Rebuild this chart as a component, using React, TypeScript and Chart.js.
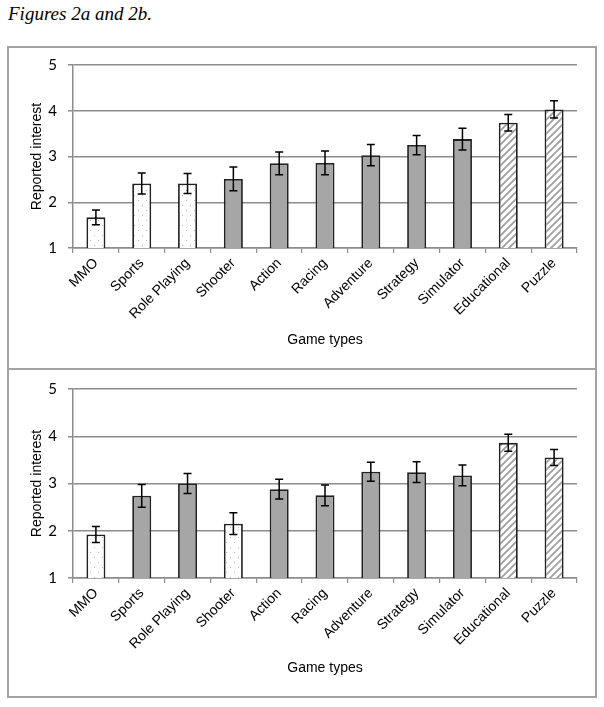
import React, { useEffect, useRef } from "react";
import { Chart, registerables } from "chart.js";

Chart.register(...registerables);

const categories = ["MMO", "Sports", "Role Playing", "Shooter", "Action", "Racing", "Adventure", "Strategy", "Simulator", "Educational", "Puzzle"];

const valuesA = [1.67, 2.41, 2.41, 2.51, 2.85, 2.86, 3.03, 3.25, 3.38, 3.74, 4.03];
const errorsA = [0.16, 0.23, 0.22, 0.26, 0.25, 0.26, 0.23, 0.21, 0.24, 0.18, 0.19];
const patternsA = ["dots", "dots", "dots", "solid", "solid", "solid", "solid", "solid", "solid", "hatch", "hatch"];

const valuesB = [1.92, 2.74, 3.0, 2.15, 2.88, 2.75, 3.25, 3.24, 3.17, 3.86, 3.55];
const errorsB = [0.17, 0.24, 0.21, 0.23, 0.21, 0.22, 0.2, 0.22, 0.22, 0.18, 0.17];
const patternsB = ["dots", "solid", "solid", "dots", "solid", "solid", "solid", "solid", "solid", "hatch", "hatch"];

const yTicks = [1, 2, 3, 4, 5];

function makePattern(kind: string): any {
  if (kind === "solid") return "#a6a6a6";
  const c = document.createElement("canvas");
  const ctx = c.getContext("2d")!;
  if (kind === "hatch") {
    c.width = 7;
    c.height = 7;
    ctx.fillStyle = "#ffffff";
    ctx.fillRect(0, 0, 7, 7);
    ctx.strokeStyle = "#a0a0a0";
    ctx.lineWidth = 1.8;
    ctx.beginPath();
    for (let k = -1; k <= 1; k++) {
      ctx.moveTo(k * 7 - 1, 8);
      ctx.lineTo(k * 7 + 8, -1);
    }
    ctx.stroke();
  } else {
    c.width = 8;
    c.height = 10;
    ctx.fillStyle = "#ffffff";
    ctx.fillRect(0, 0, 8, 10);
    ctx.fillStyle = "#b8b8b8";
    ctx.fillRect(1, 2, 1, 1);
    ctx.fillRect(5, 7, 1, 1);
  }
  return ctx.createPattern(c, "repeat");
}

const errorBarPlugin = {
  id: "errorBars",
  afterDatasetsDraw(chart: any) {
    const errs: number[] = chart.options.plugins.errorBars.errors;
    const meta = chart.getDatasetMeta(0);
    const yScale = chart.scales.y;
    const data = chart.data.datasets[0].data as number[];
    const ctx = chart.ctx;
    ctx.save();
    ctx.strokeStyle = "#000000";
    ctx.lineWidth = 1.5;
    meta.data.forEach((bar: any, i: number) => {
      const x = bar.x;
      const yt = yScale.getPixelForValue(data[i] + errs[i]);
      const yb = yScale.getPixelForValue(data[i] - errs[i]);
      ctx.beginPath();
      ctx.moveTo(x, yt);
      ctx.lineTo(x, yb);
      ctx.moveTo(x - 4, yt);
      ctx.lineTo(x + 4, yt);
      ctx.moveTo(x - 4, yb);
      ctx.lineTo(x + 4, yb);
      ctx.stroke();
    });
    ctx.restore();
  },
};

function BarPanel(props: { values: number[]; errors: number[]; patterns: string[]; w: number; h: number; top: number; xAxisH: number }) {
  const ref = useRef<HTMLCanvasElement>(null);
  useEffect(() => {
    const canvas = ref.current!;
    const gridColor = "#8c8c8c";
    const chart = new Chart(canvas, {
      type: "bar",
      data: {
        labels: categories,
        datasets: [
          {
            data: props.values,
            backgroundColor: props.patterns.map(makePattern),
            borderColor: "#222222",
            borderWidth: 1.8,
            borderSkipped: false,
            categoryPercentage: 1,
            barPercentage: 0.415,
          },
        ],
      },
      options: {
        responsive: false,
        animation: false,
        layout: { padding: { top: props.top, right: props.w - 568, left: 0, bottom: 0 } },
        plugins: {
          legend: { display: false },
          tooltip: { enabled: false },
          errorBars: { errors: props.errors },
        } as any,
        scales: {
          x: {
            offset: true,
            grid: { display: true, drawOnChartArea: false, drawTicks: true, tickLength: 5, color: gridColor, lineWidth: 1.2, offset: true },
            border: { display: true, color: gridColor, width: 1.5 },
            ticks: {
              minRotation: 45,
              maxRotation: 45,
              padding: 2,
              color: "#000000",
              font: { family: "Liberation Sans, Arial, sans-serif", size: 14 },
              autoSkip: false,
            },
            title: {
              display: true,
              text: "Game types",
              color: "#000000",
              font: { family: "Liberation Sans, Arial, sans-serif", size: 14 },
              padding: { top: 0, bottom: 19 },
            },
            afterFit: (s: any) => {
              s.height = props.xAxisH;
              s.paddingLeft = 0;
              s.paddingRight = 0;
            },
          },
          y: {
            min: 1,
            max: 5,
            afterBuildTicks: (s: any) => {
              s.ticks = yTicks.map((v) => ({ value: v }));
            },
            grid: { color: gridColor, lineWidth: 1.5, tickLength: 5, drawTicks: true },
            border: { display: true, color: gridColor, width: 1.5 },
            ticks: {
              padding: 11,
              color: "#000000",
              font: { family: "Lato, Open Sans, sans-serif", size: 15 },
            },
            title: {
              display: true,
              text: "Reported interest",
              color: "#000000",
              font: { family: "Liberation Sans, Arial, sans-serif", size: 14 },
              padding: { top: 20, bottom: 0 },
            },
            afterFit: (s: any) => {
              s.width = 64;
              s.paddingTop = 0;
              s.paddingBottom = 0;
            },
          },
        },
      },
      plugins: [errorBarPlugin],
    });
    return () => chart.destroy();
  }, []);
  return <canvas ref={ref} width={props.w} height={props.h} style={{ display: "block", width: props.w, height: props.h }} />;
}

export default function App() {
  const border = "2px solid #a3a3a3";
  return (
    <div style={{ position: "absolute", left: 0, top: 0, width: 604, height: 707, background: "#ffffff" }}>
      <div
        style={{
          position: "absolute",
          left: 8,
          top: 4,
          fontFamily: "Liberation Serif, Times New Roman, serif",
          fontStyle: "italic",
          fontSize: 19,
          lineHeight: "19px",
          whiteSpace: "nowrap",
        }}
      >
        Figures 2a and 2b.
      </div>
      <div style={{ position: "absolute", left: 7, top: 46, width: 590, height: 324, border, boxSizing: "border-box" }}>
        <BarPanel values={valuesA} errors={errorsA} patterns={patternsA} w={586} h={320} top={17} xAxisH={120} />
      </div>
      <div style={{ position: "absolute", left: 7, top: 368, width: 590, height: 330, border, boxSizing: "border-box" }}>
        <BarPanel values={valuesB} errors={errorsB} patterns={patternsB} w={586} h={326} top={19} xAxisH={118} />
      </div>
    </div>
  );
}
